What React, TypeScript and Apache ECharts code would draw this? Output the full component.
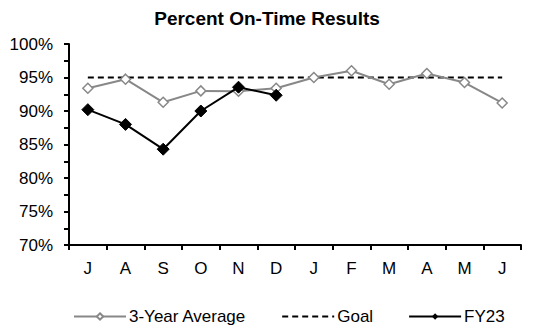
import React, { useEffect, useRef } from "react";
import * as echarts from "echarts";

const months = ["J", "A", "S", "O", "N", "D", "J", "F", "M", "A", "M", "J"];
const threeYearAvg = [93.4, 94.75, 91.3, 93.0, 92.95, 93.4, 95.0, 96.0, 94.0, 95.6, 94.25, 91.2];
const goal = [95, 95, 95, 95, 95, 95, 95, 95, 95, 95, 95, 95];
const fy23 = [90.2, 88.0, 84.3, 90.0, 93.55, 92.35];

const FONT = "'Liberation Sans', Arial, sans-serif";

export default function App() {
  const ref = useRef<HTMLDivElement>(null);
  useEffect(() => {
    document.body.style.margin = "0";
    const chart = echarts.init(ref.current!, null, { renderer: "svg" });
    chart.setOption({
      animation: false,
      backgroundColor: "#ffffff",
      textStyle: { fontFamily: FONT },
      title: {
        text: "Percent On-Time Results",
        left: 262,
        textAlign: "center",
        top: 4,
        textStyle: { fontFamily: FONT, fontSize: 19, fontWeight: "bold", color: "#000" },
      },
      grid: { left: 69, right: 19, top: 44, bottom: 84, containLabel: false },
      legend: {
        top: 308,
        left: 73,
        padding: 0,
        itemWidth: 52,
        itemHeight: 8,
        itemGap: 35,
        textStyle: { fontFamily: FONT, fontSize: 17, color: "#000", padding: [0, 0, 0, -2] },
        data: [
          { name: "3-Year Average" },
          { name: "Goal", itemStyle: { opacity: 0 } },
          { name: "FY23" },
        ],
      },
      xAxis: {
        type: "category",
        data: months,
        boundaryGap: true,
        axisLine: { lineStyle: { color: "#000", width: 2 } },
        axisTick: { show: true, length: 5, lineStyle: { color: "#000", width: 2 } },
        axisLabel: { fontFamily: FONT, fontSize: 17, color: "#000", margin: 15 },
        splitLine: { show: false },
      },
      yAxis: {
        type: "value",
        min: 70,
        max: 100,
        interval: 2.5,
        axisLine: { show: true, lineStyle: { color: "#000", width: 2 } },
        axisTick: { show: true, length: 5, lineStyle: { color: "#000", width: 2 } },
        axisLabel: {
          fontFamily: FONT,
          fontSize: 17,
          color: "#000",
          margin: 16,
          formatter: (v: number) => (Math.abs(v % 5) < 1e-9 ? `${v}%` : ""),
        },
        splitLine: { show: false },
      },
      series: [
        {
          name: "3-Year Average",
          type: "line",
          data: threeYearAvg,
          symbol: "diamond",
          symbolSize: 10,
          lineStyle: { color: "#888888", width: 2 },
          itemStyle: { color: "#ffffff", borderColor: "#888888", borderWidth: 1.5 },
          z: 2,
        },
        {
          name: "Goal",
          type: "line",
          data: goal,
          symbol: "none",
          lineStyle: { color: "#000", width: 2, type: [6, 4] },
          itemStyle: { color: "#000" },
          z: 1,
        },
        {
          name: "FY23",
          type: "line",
          data: fy23,
          symbol: "diamond",
          symbolSize: 12,
          lineStyle: { color: "#000", width: 2 },
          itemStyle: { color: "#000", borderColor: "#000" },
          z: 3,
        },
      ],
    });
    return () => chart.dispose();
  }, []);
  return <div ref={ref} style={{ width: 540, height: 329 }} />;
}
